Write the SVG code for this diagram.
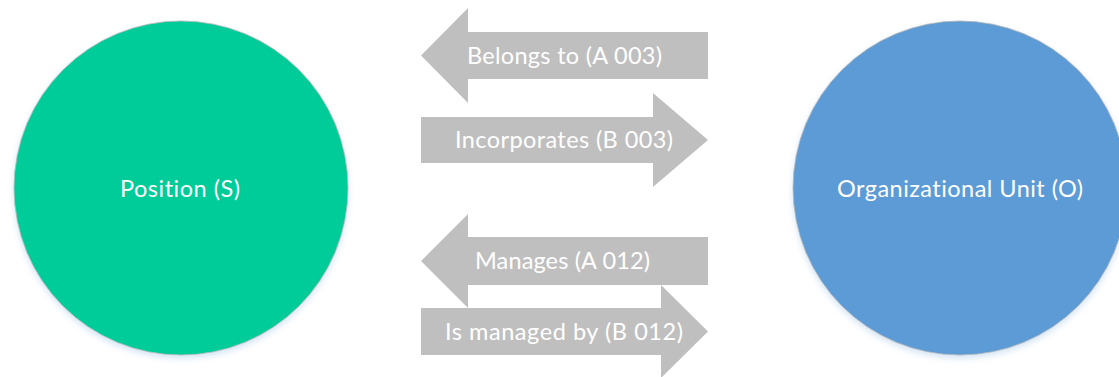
<svg xmlns="http://www.w3.org/2000/svg" width="1119" height="377" viewBox="0 0 1119 377">
  <style>
    .lbl { font-family: Lato, "Open Sans", "Liberation Sans", sans-serif; font-size: 23.5px; fill: #ffffff; text-anchor: middle; font-variant-ligatures: none; }
    .arrow { fill: #bfbfbf; }
    .node { stroke: #b8b8b8; stroke-width: 0.8; filter: url(#glow); }
  </style>
  <defs>
    <filter id="glow" x="-10%" y="-10%" width="120%" height="125%">
      <feDropShadow dx="0" dy="3" stdDeviation="3" flood-color="#9dc3e6" flood-opacity="0.45"/>
    </filter>
  </defs>
  <rect width="1119" height="377" fill="#ffffff"/>
  <g id="node-position">
    <circle class="node" cx="181" cy="188" r="167" fill="#00cc99"/>
    <text class="lbl" x="180" y="197" textLength="120">Position (S)</text>
  </g>
  <g id="node-orgunit">
    <circle class="node" cx="960" cy="188" r="167" fill="#5b9bd5"/>
    <text class="lbl" x="960" y="197" textLength="246">Organizational Unit (O)</text>
  </g>
  <g id="connectors">
    <g id="conn-a003">
      <path class="arrow" d="M421,55.5 L468,8 L468,32 L708,32 L708,79 L468,79 L468,103 Z"/>
      <text class="lbl" x="564.5" y="64" textLength="195">Belongs to (A 003)</text>
    </g>
    <g id="conn-b003">
      <path class="arrow" d="M421,117 L653,117 L653,93 L708,140 L653,187 L653,163 L421,163 Z"/>
      <text class="lbl" x="564" y="148" textLength="218">Incorporates (B 003)</text>
    </g>
    <g id="conn-a012">
      <path class="arrow" d="M421,261 L468,214 L468,237 L708,237 L708,285 L468,285 L468,308 Z"/>
      <text class="lbl" x="562.5" y="269" textLength="175">Manages (A 012)</text>
    </g>
    <g id="conn-b012">
      <path class="arrow" d="M421,308 L661,308 L661,285 L708,331.5 L661,378 L661,355 L421,355 Z"/>
      <text class="lbl" x="564" y="340" textLength="238">Is managed by (B 012)</text>
    </g>
  </g>
</svg>
